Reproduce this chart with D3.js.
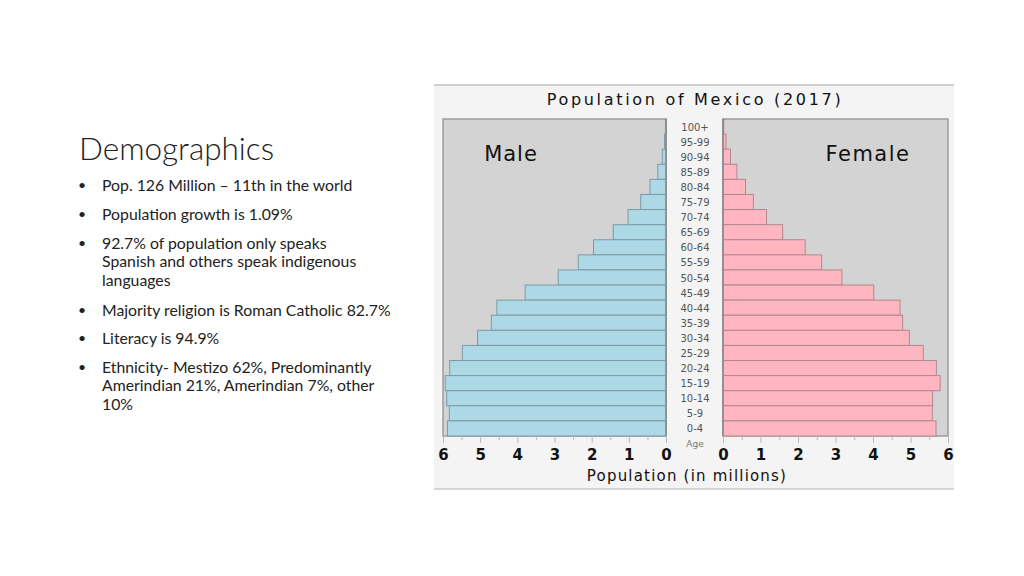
<!DOCTYPE html>
<html><head><meta charset="utf-8">
<script src="https://cdn.jsdelivr.net/npm/d3@7"></script>
<style>body{margin:0;background:#fff;} svg{display:block;}</style>
</head><body>
<svg id="c" width="1024" height="576"></svg>
<script>
const ageGroups = ["100+","95-99","90-94","85-89","80-84","75-79","70-74","65-69","60-64","55-59","50-54","45-49","40-44","35-39","30-34","25-29","20-24","15-19","10-14","5-9","0-4"];
const maleValues = [0.01,0.04,0.10,0.22,0.43,0.68,1.02,1.42,1.95,2.36,2.90,3.79,4.55,4.70,5.07,5.48,5.82,5.94,5.90,5.83,5.88];
const femaleValues = [0.02,0.08,0.20,0.37,0.60,0.81,1.16,1.59,2.19,2.63,3.17,4.02,4.72,4.79,4.97,5.34,5.69,5.79,5.59,5.58,5.68];
const tickValues = [0,1,2,3,4,5,6];
const minorTicks = [0.5,1.5,2.5,3.5,4.5,5.5];
const bullets = [
  ["Pop. 126 Million \u2013 11th in the world"],
  ["Population growth is 1.09%"],
  ["92.7% of population only speaks","Spanish and others speak indigenous","languages"],
  ["Majority religion is Roman Catholic 82.7%"],
  ["Literacy is 94.9%"],
  ["Ethnicity- Mestizo 62%, Predominantly","Amerindian 21%, Amerindian 7%, other","10%"]
];

const svg = d3.select("#c");

// Left text block
const tg = svg.append("g").attr("font-family","Lato, 'Open Sans', sans-serif").attr("fill","#222");
tg.append("text").attr("x",79).attr("y",160).attr("font-size",31.5).attr("font-weight",300).text("Demographics");
const bulletStart = [185,214,243,310,338,367];
bullets.forEach((lines,i)=>{
  tg.append("text").attr("x",78).attr("y",bulletStart[i]+5).attr("font-size",14).text("\u2022");
  lines.forEach((l,j)=>{
    tg.append("text").attr("x",102).attr("y",bulletStart[i]+5.5+j*18.6).attr("font-size",15.8).text(l);
  });
});

// Chart panel
svg.append("rect").attr("x",434).attr("y",84).attr("width",520).attr("height",406).attr("fill","#f4f4f4");
svg.append("line").attr("x1",434).attr("x2",954).attr("y1",85).attr("y2",85).attr("stroke","#cfcfcf").attr("stroke-width",2);
svg.append("line").attr("x1",434).attr("x2",954).attr("y1",489).attr("y2",489).attr("stroke","#d6d6d6").attr("stroke-width",2);

const plotTop = 119, plotBottom = 436;
const y = d3.scaleBand().domain(ageGroups).range([plotTop,plotBottom]).padding(0);
const xL = d3.scaleLinear().domain([0,6]).range([666,443]);
const xR = d3.scaleLinear().domain([0,6]).range([723,948]);

// plot backgrounds
svg.append("rect").attr("x",xL(6)).attr("y",plotTop).attr("width",xL(0)-xL(6)).attr("height",plotBottom-plotTop)
  .attr("fill","#d3d3d3").attr("stroke","#9c9c9c").attr("stroke-width",1.5);
svg.append("rect").attr("x",xR(0)).attr("y",plotTop).attr("width",xR(6)-xR(0)).attr("height",plotBottom-plotTop)
  .attr("fill","#d3d3d3").attr("stroke","#9c9c9c").attr("stroke-width",1.5);

// bars
svg.append("g").selectAll("rect").data(ageGroups).join("rect")
  .attr("x",(d,i)=>xL(maleValues[i])).attr("y",d=>y(d))
  .attr("width",(d,i)=>xL(0)-xL(maleValues[i])).attr("height",y.bandwidth())
  .attr("fill","#add8e6").attr("stroke","#7d9aa6").attr("stroke-width",1);
svg.append("g").selectAll("rect").data(ageGroups).join("rect")
  .attr("x",xR(0)).attr("y",d=>y(d))
  .attr("width",(d,i)=>xR(femaleValues[i])-xR(0)).attr("height",y.bandwidth())
  .attr("fill","#ffb6c1").attr("stroke","#b08890").attr("stroke-width",1);

// center edges
svg.append("line").attr("x1",xL(0)).attr("x2",xL(0)).attr("y1",plotTop).attr("y2",plotBottom).attr("stroke","#8a8a8a").attr("stroke-width",1.5);
svg.append("line").attr("x1",xR(0)).attr("x2",xR(0)).attr("y1",plotTop).attr("y2",plotBottom).attr("stroke","#8a8a8a").attr("stroke-width",1.5);

// age labels
svg.append("g").selectAll("text").data(ageGroups).join("text")
  .attr("x",695).attr("y",d=>y(d)+y.bandwidth()/2+4)
  .attr("text-anchor","middle").attr("font-family","DejaVu Sans, sans-serif").attr("font-size",10)
  .attr("fill","#555").text(d=>d);
svg.append("text").attr("x",695).attr("y",447).attr("text-anchor","middle")
  .attr("font-family","DejaVu Sans, sans-serif").attr("font-size",9).attr("fill","#777").text("Age");

// axes
function drawAxis(scale){
  const gMaj = svg.append("g").attr("transform",`translate(0,${plotBottom})`)
    .call(d3.axisBottom(scale).tickValues(tickValues).tickSize(7).tickPadding(6).tickFormat(d3.format("d")));
  gMaj.select(".domain").remove();
  gMaj.selectAll(".tick line").attr("stroke","#b8b8b8");
  gMaj.selectAll(".tick text").attr("font-family","DejaVu Sans, sans-serif").attr("font-size",15)
    .attr("font-weight","bold").attr("fill","#111");
  const gMin = svg.append("g").attr("transform",`translate(0,${plotBottom})`)
    .call(d3.axisBottom(scale).tickValues(minorTicks).tickSize(4).tickFormat(""));
  gMin.select(".domain").remove();
  gMin.selectAll(".tick line").attr("stroke","#b8b8b8");
}
drawAxis(xL);
drawAxis(xR);

// titles
svg.append("text").attr("x",695).attr("y",105).attr("text-anchor","middle")
  .attr("font-family","DejaVu Sans, sans-serif").attr("font-size",16).attr("letter-spacing",2.7)
  .attr("fill","#111").text("Population of Mexico (2017)");
svg.append("text").attr("x",687).attr("y",481).attr("text-anchor","middle")
  .attr("font-family","DejaVu Sans, sans-serif").attr("font-size",15).attr("letter-spacing",1.2)
  .attr("fill","#111").text("Population (in millions)");
svg.append("text").attr("x",511).attr("y",161).attr("text-anchor","middle")
  .attr("font-family","DejaVu Sans, sans-serif").attr("font-size",21).attr("letter-spacing",1)
  .attr("fill","#111").text("Male");
svg.append("text").attr("x",868).attr("y",161).attr("text-anchor","middle")
  .attr("font-family","DejaVu Sans, sans-serif").attr("font-size",21).attr("letter-spacing",1.5)
  .attr("fill","#111").text("Female");
</script>
</body></html>
